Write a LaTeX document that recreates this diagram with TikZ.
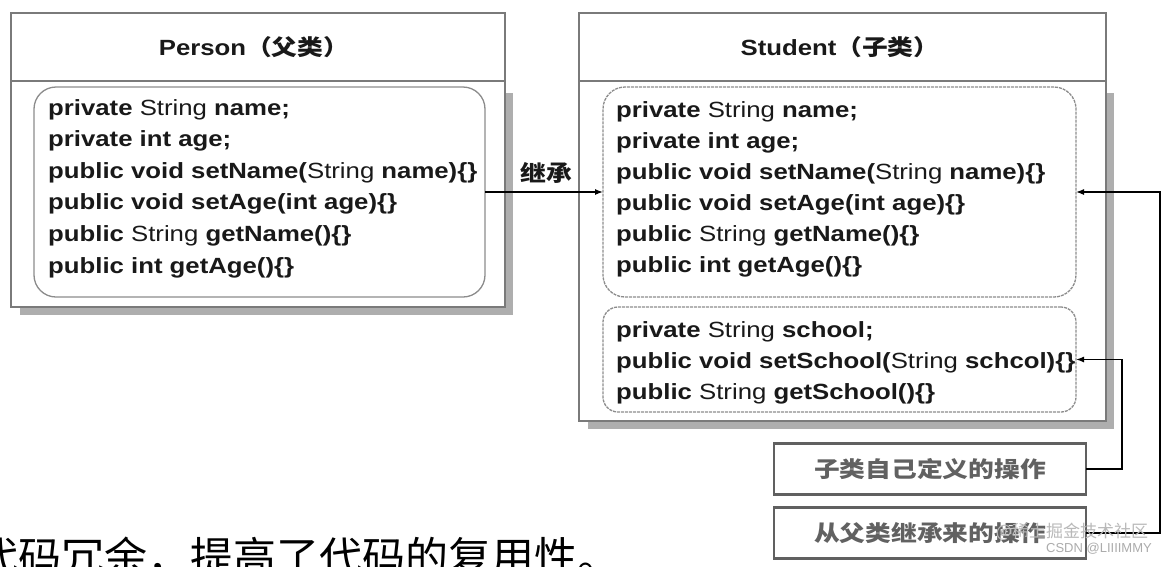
\documentclass[tikz,border=0pt]{standalone}
\usepackage{fontspec}
\usepackage{graphicx}
\usetikzlibrary{arrows.meta}
\setmainfont{Liberation Sans}
\newfontfamily\codefont[FakeStretch=1.17]{Liberation Sans}
\newfontfamily\cjkw[FakeStretch=1.17]{Noto Sans CJK SC}
\newfontfamily\cjk{Noto Sans CJK SC}
\newcommand\Str{{\mdseries String}}
\definecolor{boxgray}{HTML}{7A7A7A}
\definecolor{shadowgray}{HTML}{AEAEAE}
\definecolor{innergray}{HTML}{8C8C8C}
\begin{document}
\begin{tikzpicture}[x=1pt,y=-1pt,
  outerbox/.style={draw=boxgray, line width=2pt, fill=white},
  innerbox/.style={draw=innergray, line width=1.3pt, rounded corners=22pt, inner sep=0pt, outer sep=0pt},
  code/.style={anchor=base west, inner sep=0pt, font=\codefont\bfseries\fontsize{22}{26}\selectfont, text=black!90},
  titletext/.style={inner sep=0pt, font=\codefont\bfseries\fontsize{22}{26}\selectfont, text=black!90},
  opbox/.style={draw=gray!75!black, line width=2.2pt, fill=white, minimum width=312pt, minimum height=51pt, inner sep=0pt, outer sep=0pt, font=\cjkw\bfseries\fontsize{22}{26}\selectfont, text=black!62},
  conn/.style={line width=1.3pt, -{Latex[length=8pt,width=6pt]}},
]
\useasboundingbox (0,0) rectangle (1171,566);
\fill[white] (0,0) rectangle (1171,566);

% Person class
\fill[shadowgray] (20,93) rectangle (513,315);
\draw[outerbox] (11,13) rectangle (505,307);
\draw[boxgray, line width=2pt] (11,81) -- (505,81);
\node[titletext] (ptitle) at (254,47) {Person{\cjkw\bfseries\fontsize{22}{26}\selectfont （父类）}};
\node[innerbox, minimum width=451pt, minimum height=210pt] (pin) at (259.5,192) {};
\node[code] (p1) at (48,115) {private \Str{} name;};
\node[code] (p2) at (48,146.6) {private int age;};
\node[code] (p3) at (48,178.2) {public void setName(\Str{} name)\{\}};
\node[code] (p4) at (48,209.8) {public void setAge(int age)\{\}};
\node[code] (p5) at (48,241.4) {public \Str{} getName()\{\}};
\node[code] (p6) at (48,273) {public int getAge()\{\}};

% Student class
\fill[shadowgray] (588,93) rectangle (1114,429);
\draw[outerbox] (579,13) rectangle (1106,421);
\draw[boxgray, line width=2pt] (579,81) -- (1106,81);
\node[titletext] (stitle) at (840,47) {Student{\cjkw\bfseries\fontsize{22}{26}\selectfont （子类）}};
\node[innerbox, dash pattern=on 3pt off 1pt, minimum width=473pt, minimum height=210pt] (sin1) at (839.5,192) {};
\node[innerbox, dash pattern=on 3pt off 1pt, rounded corners=15pt, minimum width=473pt, minimum height=105pt] (sin2) at (839.5,359.5) {};
\node[code] (s1) at (616,117) {private \Str{} name;};
\node[code] (s2) at (616,148) {private int age;};
\node[code] (s3) at (616,179) {public void setName(\Str{} name)\{\}};
\node[code] (s4) at (616,210) {public void setAge(int age)\{\}};
\node[code] (s5) at (616,241) {public \Str{} getName()\{\}};
\node[code] (s6) at (616,272) {public int getAge()\{\}};
\node[code] (t1) at (616,337) {private \Str{} school;};
\node[code] (t2) at (616,368) {public void setSchool(\Str{} schcol)\{\}};
\node[code] (t3) at (616,399) {public \Str{} getSchool()\{\}};

% inheritance arrow
\node[inner sep=0pt, font=\cjkw\bfseries\fontsize{22}{26}\selectfont, text=black!90] (lbl) at (546,173) {继承};
\draw[conn] (pin.east) -- (sin1.west);

% operation boxes
\node[opbox] (own) at (930,469) {子类自己定义的操作};
\node[opbox] (inh) at (930,533) {从父类继承来的操作};
\draw[conn] (own.east) -- ++(36,0) |- (sin2.east);
\draw[conn] (inh.east) -- ++(74,0) |- (sin1.east);

% watermark
\node[inner sep=0pt, font=\cjk\fontsize{17}{20}\selectfont, text=gray!55] (wm1) at (1072,532) {@稀土掘金技术社区};
\node[inner sep=0pt, font=\fontsize{13}{15}\selectfont, text=gray!65] (wm2) at (1099,549) {CSDN @LIIIIMMY};

% clipped body text
\begin{scope}
\clip (0,0) rectangle (1171,566);
\node[anchor=base west, inner sep=0pt, font=\cjk\fontsize{43}{50}\selectfont, text=black] (tail) at (-25,573) {代码冗余，提高了代码的复用性。};
\end{scope}
\end{tikzpicture}
\end{document}
